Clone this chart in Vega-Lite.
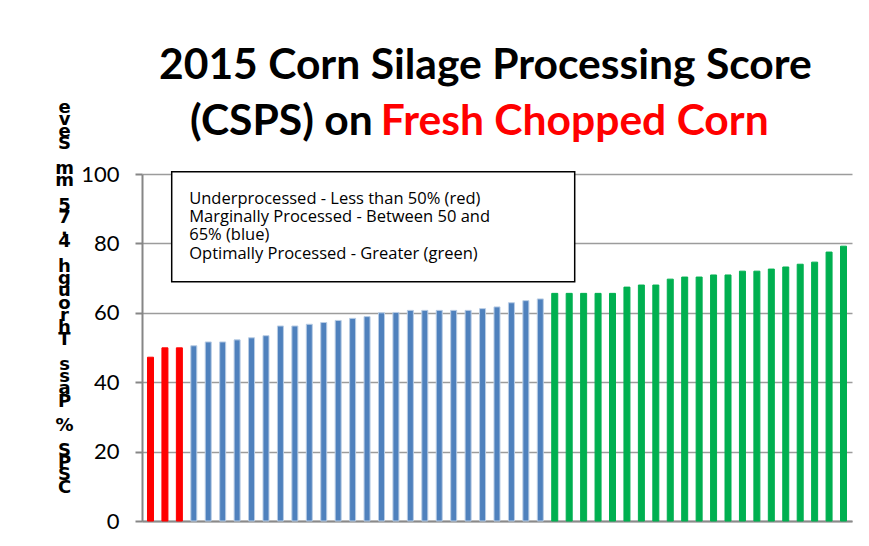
{
  "$schema": "https://vega.github.io/schema/vega-lite/v6.json",
  "width": 710,
  "height": 347,
  "autosize": {"type": "none"},
  "padding": {"left": 142, "top": 174, "right": 17, "bottom": 25},
  "background": "white",
  "title": {
    "text": ["2015 Corn Silage Processing Score", "\u200b\u00a0\u00a0\u00a0(CSPS) on"],
    "subtitle": "\u200b\u2003\u2003\u2003\u2003\u2003\u00a0\u00a0\u00a0\u00a0\u00a0\u00a0Fresh Chopped Corn",
    "anchor": "start",
    "frame": "group",
    "dx": 17,
    "offset": -46,
    "font": "Lato",
    "fontSize": 42.6,
    "fontWeight": "bold",
    "color": "#000000",
    "lineHeight": 56,
    "subtitleFont": "Lato",
    "subtitleFontSize": 42.6,
    "subtitleFontWeight": "bold",
    "subtitleColor": "#FF0000",
    "subtitlePadding": -43
  },
  "data": {
    "values": [
      {"i": 1, "v": 47.2, "status": "Underprocessed"},
      {"i": 2, "v": 49.9, "status": "Underprocessed"},
      {"i": 3, "v": 49.9, "status": "Underprocessed"},
      {"i": 4, "v": 50.5, "status": "Marginally Processed"},
      {"i": 5, "v": 51.6, "status": "Marginally Processed"},
      {"i": 6, "v": 51.6, "status": "Marginally Processed"},
      {"i": 7, "v": 52.2, "status": "Marginally Processed"},
      {"i": 8, "v": 52.8, "status": "Marginally Processed"},
      {"i": 9, "v": 53.4, "status": "Marginally Processed"},
      {"i": 10, "v": 56.2, "status": "Marginally Processed"},
      {"i": 11, "v": 56.2, "status": "Marginally Processed"},
      {"i": 12, "v": 56.7, "status": "Marginally Processed"},
      {"i": 13, "v": 57.2, "status": "Marginally Processed"},
      {"i": 14, "v": 57.8, "status": "Marginally Processed"},
      {"i": 15, "v": 58.4, "status": "Marginally Processed"},
      {"i": 16, "v": 58.9, "status": "Marginally Processed"},
      {"i": 17, "v": 60.0, "status": "Marginally Processed"},
      {"i": 18, "v": 60.1, "status": "Marginally Processed"},
      {"i": 19, "v": 60.7, "status": "Marginally Processed"},
      {"i": 20, "v": 60.7, "status": "Marginally Processed"},
      {"i": 21, "v": 60.7, "status": "Marginally Processed"},
      {"i": 22, "v": 60.7, "status": "Marginally Processed"},
      {"i": 23, "v": 60.7, "status": "Marginally Processed"},
      {"i": 24, "v": 61.2, "status": "Marginally Processed"},
      {"i": 25, "v": 61.7, "status": "Marginally Processed"},
      {"i": 26, "v": 62.9, "status": "Marginally Processed"},
      {"i": 27, "v": 63.5, "status": "Marginally Processed"},
      {"i": 28, "v": 64.0, "status": "Marginally Processed"},
      {"i": 29, "v": 65.6, "status": "Optimally Processed"},
      {"i": 30, "v": 65.6, "status": "Optimally Processed"},
      {"i": 31, "v": 65.6, "status": "Optimally Processed"},
      {"i": 32, "v": 65.6, "status": "Optimally Processed"},
      {"i": 33, "v": 65.6, "status": "Optimally Processed"},
      {"i": 34, "v": 67.4, "status": "Optimally Processed"},
      {"i": 35, "v": 68.0, "status": "Optimally Processed"},
      {"i": 36, "v": 68.0, "status": "Optimally Processed"},
      {"i": 37, "v": 69.7, "status": "Optimally Processed"},
      {"i": 38, "v": 70.3, "status": "Optimally Processed"},
      {"i": 39, "v": 70.3, "status": "Optimally Processed"},
      {"i": 40, "v": 70.9, "status": "Optimally Processed"},
      {"i": 41, "v": 70.9, "status": "Optimally Processed"},
      {"i": 42, "v": 72.0, "status": "Optimally Processed"},
      {"i": 43, "v": 72.0, "status": "Optimally Processed"},
      {"i": 44, "v": 72.6, "status": "Optimally Processed"},
      {"i": 45, "v": 73.2, "status": "Optimally Processed"},
      {"i": 46, "v": 74.0, "status": "Optimally Processed"},
      {"i": 47, "v": 74.6, "status": "Optimally Processed"},
      {"i": 48, "v": 77.5, "status": "Optimally Processed"},
      {"i": 49, "v": 79.2, "status": "Optimally Processed"}
    ]
  },
  "mark": {"type": "bar", "strokeWidth": 1},
  "encoding": {
    "x": {
      "field": "i",
      "type": "ordinal",
      "scale": {"paddingInner": 0.584, "paddingOuter": 0.38},
      "axis": {"labels": false, "ticks": false, "title": null, "grid": false, "domainColor": "#8a8a8a", "domainWidth": 2}
    },
    "y": {
      "field": "v",
      "type": "quantitative",
      "scale": {"domain": [0, 100], "nice": false},
      "axis": {
        "values": [0, 20, 40, 60, 80, 100],
        "title": ["e", "v", "e", "S", "\u200b", "m", "m", "\u200b", "5", "7", ".", "4", "\u200b", "h", "g", "u", "o", "r", "h", "T", "\u200b", "s", "s", "a", "P", "\u200b", "%", "\u200b", "S", "P", "S", "C"],
        "titleFont": "DejaVu Sans",
        "titleFontSize": 18,
        "titleFontWeight": "bold",
        "titleColor": "#000000",
        "titleAngle": 0,
        "titleAlign": "center",
        "titleBaseline": "alphabetic",
        "titleX": -78,
        "titleY": -62,
        "titleLineHeight": 12.26,
        "labelFont": "Lato",
        "labelFontSize": 22,
        "labelColor": "#000000",
        "labelPadding": 16,
        "tickSize": 7,
        "tickColor": "#868686",
        "tickWidth": 2,
        "domainColor": "#868686",
        "domainWidth": 2,
        "gridColor": "#9c9c9c",
        "gridWidth": 1.5
      }
    },
    "color": {
      "field": "status",
      "type": "nominal",
      "scale": {
        "domain": ["Underprocessed", "Marginally Processed", "Optimally Processed"],
        "range": ["#FF0000", "#4F81BD", "#00B050"]
      },
      "legend": {
        "orient": "none",
        "legendX": 29.7,
        "legendY": -2.3,
        "title": null,
        "symbolSize": 0,
        "symbolStrokeWidth": 0,
        "symbolOpacity": 0,
        "labelOffset": -18,
        "labelFont": "Open Sans",
        "labelFontSize": 16.5,
        "labelColor": "#000000",
        "labelLimit": 0,
        "rowPadding": 1,
        "padding": 19,
        "strokeColor": "#000000",
        "fillColor": "#ffffff",
        "labelExpr": "datum.label == 'Underprocessed' ? 'Underprocessed - Less than 50% (red)\u2003\u2003\u2003\u2003\u00a0\u00a0\u200b' : datum.label == 'Marginally Processed' ? ['Marginally Processed - Between 50 and', '65% (blue)'] : 'Optimally Processed - Greater (green)'"
      }
    },
    "stroke": {
      "field": "status",
      "type": "nominal",
      "scale": {
        "domain": ["Underprocessed", "Marginally Processed", "Optimally Processed"],
        "range": ["#FF0000", "#B9CDE5", "#00B050"]
      },
      "legend": null
    }
  },
  "config": {
    "view": {"stroke": null},
    "legend": {"strokeWidth": 1.5}
  }
}
